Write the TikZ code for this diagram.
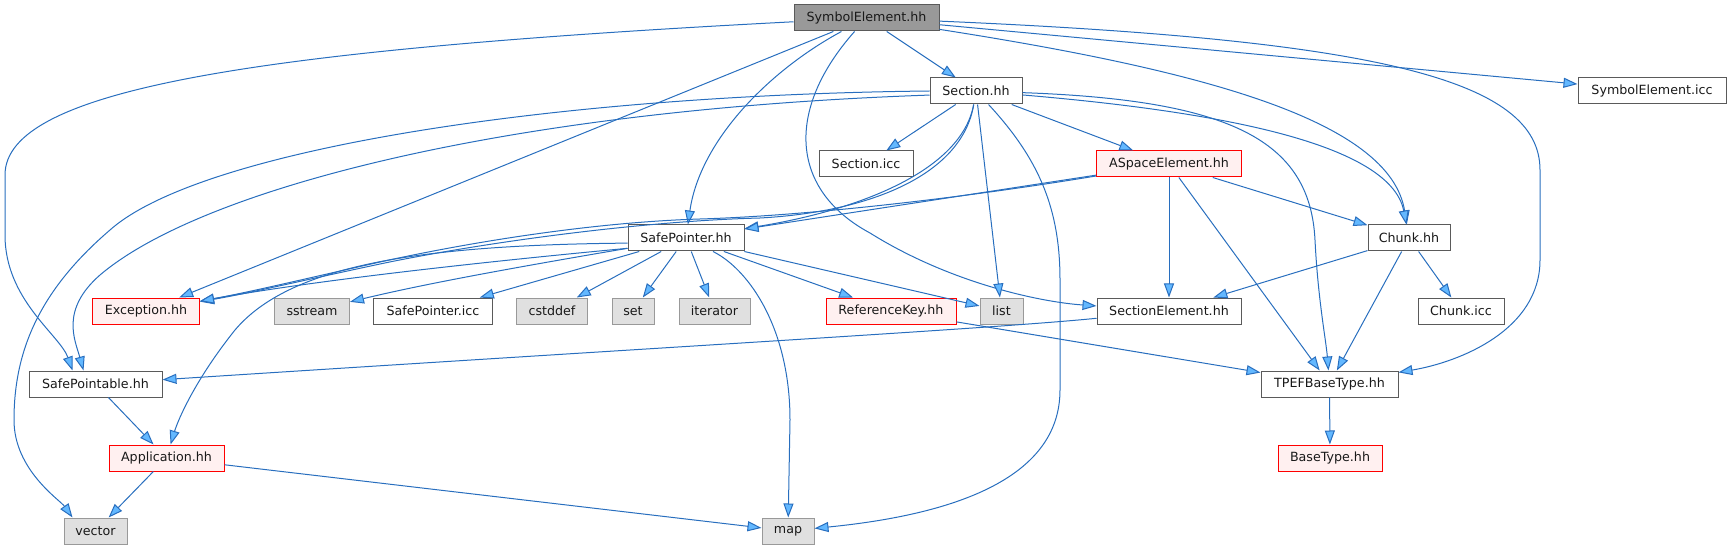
\documentclass[tikz,border=0pt]{standalone}
\usepackage{fontspec}
\setmainfont{DejaVu Sans}
\usetikzlibrary{arrows.meta,calc}
\definecolor{dxedge}{RGB}{40,110,190}
\definecolor{dxhead}{RGB}{99,184,255}
\definecolor{dxroot}{RGB}{153,153,153}
\definecolor{dxframe}{RGB}{90,90,90}
\definecolor{dxsys}{RGB}{224,224,224}
\definecolor{dxsysframe}{RGB}{153,153,153}
\definecolor{dxtrunc}{RGB}{255,240,240}

\begin{document}
\begin{tikzpicture}[x=0.75pt,y=-0.75pt,
  font=\fontsize{9.5}{11}\selectfont,
  file/.style={draw=dxframe,fill=white,line width=0.75pt,minimum height=19.5pt,inner xsep=1pt,text=black!90},
  rootfile/.style={file,fill=dxroot},
  sysfile/.style={file,draw=dxsysframe,fill=dxsys},
  cutfile/.style={file,draw=red,fill=dxtrunc},
  dep/.style={draw=dxedge,line width=0.75pt,-{Triangle[length=10.5pt,width=7.5pt,fill=dxhead]}}]
  \useasboundingbox (0,0) rectangle (1729,549);

  \node[rootfile,minimum width=108.75pt] (root) at (866.5,18) {SymbolElement.hh};
  \node[file,minimum width=69pt] (sec) at (976,91) {Section.hh};
  \node[file,minimum width=111pt] (seicc) at (1652,91) {SymbolElement.icc};
  \node[file,minimum width=70.5pt] (secicc) at (866,164) {Section.icc};
  \node[cutfile,minimum width=108.75pt] (asp) at (1169,164) {ASpaceElement.hh};
  \node[file,minimum width=87pt] (sp) at (686,238) {SafePointer.hh};
  \node[file,minimum width=61.5pt] (chunk) at (1409,238) {Chunk.hh};
  \node[cutfile,minimum width=80.25pt] (exc) at (146,311) {Exception.hh};
  \node[sysfile,minimum width=56.25pt] (sstream) at (312,311) {sstream};
  \node[file,minimum width=89.25pt] (spicc) at (433,311) {SafePointer.icc};
  \node[sysfile,minimum width=53.25pt] (cstd) at (552,311) {cstddef};
  \node[sysfile,minimum width=31.5pt] (set) at (633,311) {set};
  \node[sysfile,minimum width=53.25pt] (iter) at (714.5,311) {iterator};
  \node[cutfile,minimum width=97.5pt] (refkey) at (891,311) {ReferenceKey.hh};
  \node[sysfile,minimum width=32.25pt] (list) at (1001.5,311) {list};
  \node[file,minimum width=108pt] (secel) at (1169,311) {SectionElement.hh};
  \node[file,minimum width=64.5pt] (chicc) at (1461,311) {Chunk.icc};
  \node[file,minimum width=99.75pt] (sptbl) at (95.5,384) {SafePointable.hh};
  \node[file,minimum width=102.75pt] (tpef) at (1329.5,384) {TPEFBaseType.hh};
  \node[cutfile,minimum width=86.25pt] (app) at (166.5,458) {Application.hh};
  \node[cutfile,minimum width=78pt] (bt) at (1330,458) {BaseType.hh};
  \node[sysfile,minimum width=47.25pt] (vector) at (95.5,531) {vector};
  \node[sysfile,minimum width=39pt] (map) at (788,531) {map};

  % SymbolElement.hh
  \draw[dep] (root) -- (sec);
  \draw[dep] (root) -- (seicc);
  \draw[dep] (root) .. controls (250,50) and (5,90) .. (5,175) -- (5,235) .. controls (5,300) and (60,335) .. ($(sptbl.north)+(-23,0)$);
  \draw[dep] (root) -- (exc);
  \draw[dep] (root) .. controls (770,70) and (700,140) .. (sp);
  \draw[dep] (root) .. controls (785,110) and (790,190) .. (870,233) .. controls (950,283) and (1040,302) .. (secel);
  \draw[dep] (root) .. controls (1200,70) and (1390,120) .. (chunk);
  \draw[dep] (root) .. controls (1380,40) and (1540,80) .. (1540,170) -- (1540,260) .. controls (1540,330) and (1460,362) .. (tpef);

  % Section.hh
  \draw[dep] (sec) -- (secicc);
  \draw[dep] (sec) -- (asp);
  \draw[dep] (sec) -- (list);
  \draw[dep] (sec) .. controls (962,170) and (860,210) .. (sp);
  \draw[dep] (sec) .. controls (962,175) and (870,212) .. (760,218) .. controls (640,221) and (480,243) .. (380,264) .. controls (300,281) and (250,293) .. (exc);
  \draw[dep] (sec) .. controls (1040,160) and (1060,210) .. (1060,280) -- (1060,390) .. controls (1060,480) and (950,515) .. (map);
  \draw[dep] (sec) .. controls (1200,110) and (1390,140) .. (chunk);
  \draw[dep] (sec) .. controls (1230,100) and (1310,140) .. (1315,240) .. controls (1318,300) and (1326,340) .. (tpef);
  \draw[dep] (sec.west) .. controls (550,95) and (200,150) .. (110,230) .. controls (40,290) and (14,350) .. (14,420) .. controls (14,470) and (60,500) .. ($(vector.north)+(-23,0)$);
  \draw[dep] (sec.185) .. controls (500,110) and (200,190) .. (100,275) .. controls (60,310) and (75,340) .. ($(sptbl.north)+(-12,0)$);

  % SafePointer.hh
  \draw[dep] (sp.190) .. controls (450,265) and (300,283) .. (exc);
  \draw[dep] (sp.190) .. controls (500,270) and (420,285) .. (sstream);
  \draw[dep] (sp) -- (spicc);
  \draw[dep] (sp) -- (cstd);
  \draw[dep] (sp) -- (set);
  \draw[dep] (sp) -- (iter);
  \draw[dep] (sp) -- (refkey);
  \draw[dep] (sp) -- (list);
  \draw[dep] (sp) .. controls (750,270) and (790,330) .. (790,420) -- (map);
  \draw[dep] (sp.185) .. controls (420,245) and (290,265) .. (235,330) .. controls (195,380) and (178,420) .. (app);

  % ASpaceElement.hh
  \draw[dep] (asp) -- (sp);
  \draw[dep] (asp) .. controls (950,200) and (800,216) .. (700,219) .. controls (600,222) and (480,240) .. (380,262) .. controls (300,280) and (250,292) .. (exc);
  \draw[dep] (asp) -- (chunk);
  \draw[dep] (asp) -- (secel);
  \draw[dep] (asp) -- (tpef);

  % Chunk.hh
  \draw[dep] (chunk) -- (secel);
  \draw[dep] (chunk) -- (tpef);
  \draw[dep] (chunk) -- (chicc);

  \draw[dep] (secel) .. controls (1000,328) and (700,345) .. (sptbl);
  \draw[dep] (refkey) -- (tpef);
  \draw[dep] (sptbl) -- (app);
  \draw[dep] (app) -- (vector);
  \draw[dep] (app) -- (map);
  \draw[dep] (tpef) -- (bt);
\end{tikzpicture}
\end{document}
